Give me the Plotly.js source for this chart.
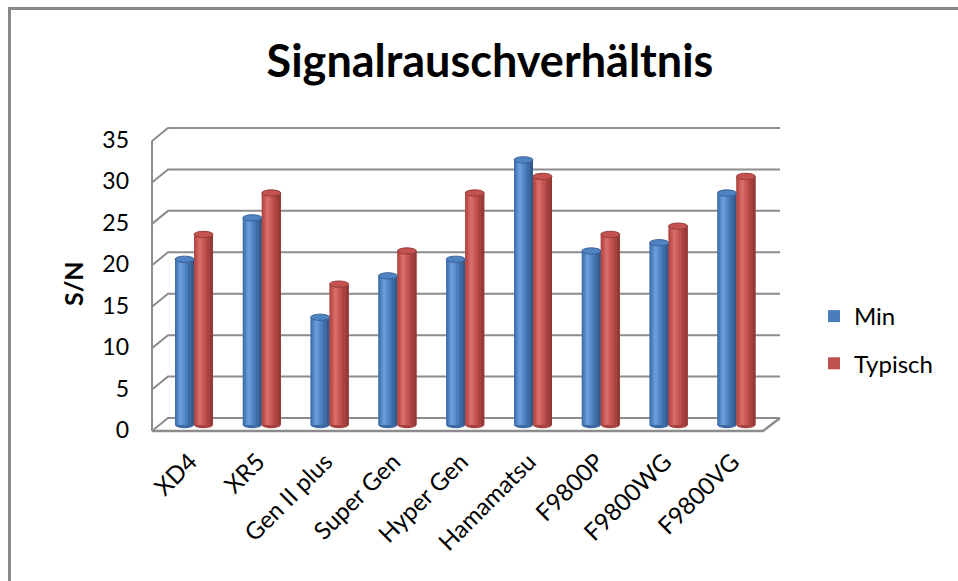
<!DOCTYPE html>
<html>
<head>
<meta charset="utf-8">
<script src="https://cdn.plot.ly/plotly-3.0.1.min.js"></script>
<style>
  html, body { margin: 0; padding: 0; background: #ffffff; }
  #wrap { position: relative; width: 958px; height: 581px; overflow: hidden; }
  #chart { position: absolute; left: 0; top: 0; width: 958px; height: 581px; }
  #frame { position: absolute; left: 8px; top: 7px; width: 980px; height: 600px;
           border-left: 3px solid #8a8a8a; border-top: 3px solid #8a8a8a; pointer-events: none; }
</style>
</head>
<body>
<div id="wrap"><div id="chart"></div><div id="frame"></div></div>
<script>
// ---- data ----
const categories = ['XD4', 'XR5', 'Gen II plus', 'Super Gen', 'Hyper Gen', 'Hamamatsu', 'F9800P', 'F9800WG', 'F9800VG'];
const minValues = [20, 25, 13, 18, 20, 32, 21, 22, 28];
const typValues = [23, 28, 17, 21, 28, 30, 23, 24, 30];
const yTicks = [0, 5, 10, 15, 20, 25, 30, 35];
const seriesNames = ['Min', 'Typisch'];

// ---- geometry (pixels) ----
const W = 958, H = 581;
const L = 152, R = 780, T = 120, B = 432;     // plot area
const k = 290 / 35;                            // px per unit
const zeroMid = 425, zeroFront = 431, zeroBack = 418;
const depthX = 16;                             // back wall shift
const cat0 = 194, catStep = 67.8;
const barW = 0.28;

const px = X => (X - L) / (R - L);
const py = Y => (B - Y) / (B - T);

// ---- styles ----
const styles = [
  { off: -barW, base: '#4a7ebb', edgeL: '#3f6ea8', dark1: '#3d6aa2', dark2: '#335a8a',
    light1: '#5a8dcd', light2: '#6a9bd8', cap: '#4f83c2', capLine: '#3a6399' },
  { off: 0, base: '#c0504d', edgeL: '#b04744', dark1: '#a8423f', dark2: '#933936',
    light1: '#cc5e5a', light2: '#d66c68', cap: '#c4524f', capLine: '#973c39' }
];
const stripeDefs = [
  [0, 1, 'base'], [0, 0.07, 'edgeL'], [0.68, 1, 'dark1'], [0.86, 1, 'dark2'],
  [0.15, 0.52, 'light1'], [0.23, 0.40, 'light2']
];

const seriesValues = [minValues, typValues];
const traces = [];
seriesValues.forEach((vals, s) => {
  const st = styles[s];
  stripeDefs.forEach(([f0, f1, key], j) => {
    traces.push({
      type: 'bar', x: categories, y: vals, name: seriesNames[s],
      offset: st.off + barW * f0, width: barW * (f1 - f0),
      marker: { color: st[key], line: { width: 0 } },
      showlegend: j === 0, legendgroup: seriesNames[s],
      hoverinfo: j === 0 ? 'x+y+name' : 'skip'
    });
  });
});

// ---- shapes: 3D walls, gridlines, caps ----
const shapes = [];
const lineStyle = { color: '#8c8c8c', width: 2 };
yTicks.forEach(v => {
  const yf = zeroFront - v * k, yb = zeroBack - v * k;
  shapes.push({ type: 'path', xref: 'paper', yref: 'paper', layer: 'below',
    path: `M${px(L)},${py(yf)} L${px(L + depthX)},${py(yb)} L${px(R)},${py(yb)}`,
    line: lineStyle });
});
// left wall front edge
shapes.push({ type: 'line', xref: 'paper', yref: 'paper', layer: 'below',
  x0: px(L), y0: py(zeroFront), x1: px(L), y1: py(zeroFront - 35 * k), line: lineStyle });
// floor front edge
shapes.push({ type: 'path', xref: 'paper', yref: 'paper', layer: 'below',
  path: `M${px(L)},${py(zeroFront)} L${px(R - depthX - 1)},${py(zeroFront)} L${px(R)},${py(zeroBack)}`,
  line: { color: '#8c8c8c', width: 2.5 } });

const capH = 0.38;
seriesValues.forEach((vals, s) => {
  const st = styles[s];
  vals.forEach((v, i) => {
    const x0 = i + st.off, x1 = i + st.off + barW;
    shapes.push({ type: 'circle', xref: 'x', yref: 'y', layer: 'below',
      x0: x0, x1: x1, y0: -capH, y1: capH, fillcolor: st.dark1, line: { width: 0 } });
    shapes.push({ type: 'circle', xref: 'x', yref: 'y', layer: 'above',
      x0: x0, x1: x1, y0: v - capH, y1: v + capH, fillcolor: st.cap,
      line: { color: st.capLine, width: 1 } });
  });
});

const font = 'Lato, "Open Sans", "DejaVu Sans", sans-serif';

const layout = {
  width: W, height: H,
  margin: { l: L, r: W - R, t: T, b: H - B, pad: 0 },
  paper_bgcolor: 'rgba(0,0,0,0)', plot_bgcolor: 'rgba(0,0,0,0)',
  font: { family: font, size: 22, color: '#000000' },
  title: { text: 'Signalrauschverhältnis', font: { family: font, size: 45, weight: 'bold', color: '#000' },
           xref: 'container', yref: 'container', x: 490 / W, y: 1 - 61 / H,
           xanchor: 'center', yanchor: 'middle' },
  barmode: 'overlay',
  xaxis: { type: 'category', range: [(L - cat0) / catStep, (R - cat0) / catStep],
           tickangle: -45, showgrid: false, zeroline: false, showline: false,
           ticks: '', ticklabelstandoff: 10, ticklabelshift: -4,
           tickfont: { family: font, size: 24, color: '#000' },
           fixedrange: true },
  yaxis: { range: [-(B - zeroMid) / k, (zeroMid - T) / k], tickvals: yTicks,
           showgrid: false, zeroline: false, showline: false, ticks: '',
           ticklabelshift: 5, ticklabelstandoff: 22,
           tickfont: { family: font, size: 23, color: '#000' }, fixedrange: true },
  legend: { x: px(814), y: py(294), xanchor: 'left', yanchor: 'top',
            font: { family: font, size: 24, color: '#000' }, tracegroupgap: 13,
            bgcolor: 'rgba(0,0,0,0)' },
  annotations: [{ text: '<b>S/N</b>', textangle: -90, xref: 'paper', yref: 'paper',
                  x: px(73), y: py(284), xanchor: 'center', yanchor: 'middle', showarrow: false,
                  font: { family: font, size: 25, color: '#000' } }],
  shapes: shapes
};

Plotly.newPlot('chart', traces, layout, { displayModeBar: false, staticPlot: true });
</script>
</body>
</html>
